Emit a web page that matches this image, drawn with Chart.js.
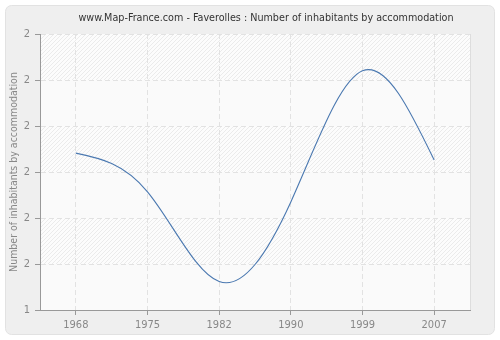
<!DOCTYPE html>
<html lang="en">
<head>
    <meta charset="UTF-8">
    <title>Faverolles - inhabitants by accommodation</title>
    <script src="https://cdn.jsdelivr.net/npm/chart.js"></script>
    <style>
        body { margin: 0; background: #ffffff; }
    </style>
</head>
<body>
    <canvas id="inhabChart" width="500" height="340"></canvas>

    <script>
        // Data (value in y-tick units, 0 = bottom line)
        const years = ['1968', '1975', '1982', '1990', '1999', '2007'];
        const inhabitants = [3.41, 2.57, 0.62, 2.35, 5.2, 3.26];
        const yTickLabels = ['1', '2', '2', '2', '2', '2', '2'];

        const titleText = 'www.Map-France.com - Faverolles : Number of inhabitants by accommodation';
        const fontFam = '"DejaVu Sans Condensed", "DejaVu Sans", sans-serif';

        // diagonal hatch for the plot background
        function makeHatch(ctx) {
            const c = document.createElement('canvas');
            c.width = 4; c.height = 4;
            const p = c.getContext('2d');
            p.fillStyle = '#fcfcfc';
            p.fillRect(0, 0, 4, 4);
            p.strokeStyle = '#ebebeb';
            p.lineWidth = 1;
            p.beginPath();
            p.moveTo(0, 4); p.lineTo(4, 0);
            p.moveTo(-1, 1); p.lineTo(1, -1);
            p.moveTo(3, 5); p.lineTo(5, 3);
            p.stroke();
            return ctx.createPattern(c, 'repeat');
        }

        const backdrop = {
            id: 'backdrop',
            beforeDraw(chart) {
                const ctx = chart.ctx;
                const a = chart.chartArea;
                ctx.save();
                // outer panel
                ctx.beginPath();
                ctx.roundRect(5.5, 5.5, 489, 329, 6);
                ctx.fillStyle = '#efefef';
                ctx.fill();
                ctx.strokeStyle = '#e2e2e2';
                ctx.stroke();
                // plot area bands
                const yScale = chart.scales.y;
                const hatch = makeHatch(ctx);
                for (let i = 0; i < 6; i++) {
                    const top = yScale.getPixelForValue(6 - i);
                    const bot = yScale.getPixelForValue(5 - i);
                    ctx.fillStyle = (i % 2 === 0) ? hatch : '#fafafa';
                    ctx.fillRect(a.left, top, a.right - a.left, bot - top);
                }
                ctx.strokeStyle = '#dddddd';
                ctx.beginPath();
                ctx.moveTo(a.right + 0.5, a.top);
                ctx.lineTo(a.right + 0.5, a.bottom);
                ctx.stroke();
                ctx.restore();
            },
            afterDraw(chart) {
                const ctx = chart.ctx;
                ctx.save();
                ctx.font = '10.7px ' + fontFam;
                ctx.fillStyle = '#333333';
                ctx.textAlign = 'center';
                ctx.textBaseline = 'middle';
                ctx.fillText(titleText, 266, 18);
                ctx.restore();
            }
        };

        // natural cubic spline through the points the line controller placed
        const naturalSpline = {
            id: 'naturalSpline',
            beforeDatasetDraw(chart, args) {
                const pts = args.meta.data;
                const n = pts.length;
                if (n < 3) return;
                const xs = pts.map(p => p.x), ys = pts.map(p => p.y);
                const h = [];
                for (let i = 0; i < n - 1; i++) h.push(xs[i + 1] - xs[i]);
                // solve for second derivatives, M0 = Mn = 0
                const a = [], b = [], c = [], d = [];
                for (let i = 1; i < n - 1; i++) {
                    a.push(h[i - 1]);
                    b.push(2 * (h[i - 1] + h[i]));
                    c.push(h[i]);
                    d.push(6 * ((ys[i + 1] - ys[i]) / h[i] - (ys[i] - ys[i - 1]) / h[i - 1]));
                }
                const m = a.length;
                for (let i = 1; i < m; i++) {
                    const w = a[i] / b[i - 1];
                    b[i] -= w * c[i - 1];
                    d[i] -= w * d[i - 1];
                }
                const inner = new Array(m);
                inner[m - 1] = d[m - 1] / b[m - 1];
                for (let i = m - 2; i >= 0; i--) inner[i] = (d[i] - c[i] * inner[i + 1]) / b[i];
                const M = [0, ...inner, 0];

                const ctx = chart.ctx;
                const ds = args.meta.dataset.options;
                ctx.save();
                ctx.beginPath();
                ctx.moveTo(xs[0], ys[0]);
                for (let i = 0; i < n - 1; i++) {
                    const hi = h[i];
                    const sec = (ys[i + 1] - ys[i]) / hi;
                    const s0 = sec - hi * (2 * M[i] + M[i + 1]) / 6;
                    const s1 = sec + hi * (M[i] + 2 * M[i + 1]) / 6;
                    ctx.bezierCurveTo(
                        xs[i] + hi / 3, ys[i] + s0 * hi / 3,
                        xs[i + 1] - hi / 3, ys[i + 1] - s1 * hi / 3,
                        xs[i + 1], ys[i + 1]
                    );
                }
                ctx.strokeStyle = ds.borderColor;
                ctx.lineWidth = ds.borderWidth;
                ctx.stroke();
                ctx.restore();
                return false;
            }
        };

        const ctx = document.getElementById('inhabChart').getContext('2d');
        const inhabChart = new Chart(ctx, {
            type: 'line',
            data: {
                labels: years,
                datasets: [{
                    label: 'Number of inhabitants by accommodation',
                    data: inhabitants,
                    borderColor: '#4a78b0',
                    borderWidth: 1.1,
                    pointRadius: 0,
                    fill: false
                }]
            },
            options: {
                responsive: false,
                animation: false,
                layout: {
                    padding: { top: 34, right: 30, bottom: 5, left: 5 }
                },
                plugins: {
                    legend: { display: false },
                    tooltip: { enabled: false }
                },
                scales: {
                    x: {
                        offset: true,
                        grid: {
                            offset: false,
                            color: '#e2e2e2',
                            tickColor: '#999999',
                            tickLength: 5
                        },
                        border: { color: '#999999', dash: [5, 3] },
                        ticks: {
                            color: '#888888',
                            font: { family: fontFam, size: 11 },
                            padding: 4,
                            maxRotation: 0
                        },
                        afterFit(scale) { scale.height = 25; }
                    },
                    y: {
                        min: 0,
                        max: 6,
                        grid: {
                            color: '#e2e2e2',
                            tickColor: '#999999',
                            tickLength: 5
                        },
                        border: { color: '#999999', dash: [5, 3] },
                        ticks: {
                            stepSize: 1,
                            color: '#888888',
                            font: { family: fontFam, size: 11 },
                            padding: 5,
                            callback: (v, i) => yTickLabels[i]
                        },
                        title: {
                            display: true,
                            text: 'Number of inhabitants by accommodation',
                            color: '#888888',
                            font: { family: fontFam, size: 10.5 },
                            padding: { top: 3, bottom: 0 }
                        },
                        afterFit(scale) { scale.width = 35; }
                    }
                }
            },
            plugins: [backdrop, naturalSpline]
        });
    </script>
</body>
</html>
